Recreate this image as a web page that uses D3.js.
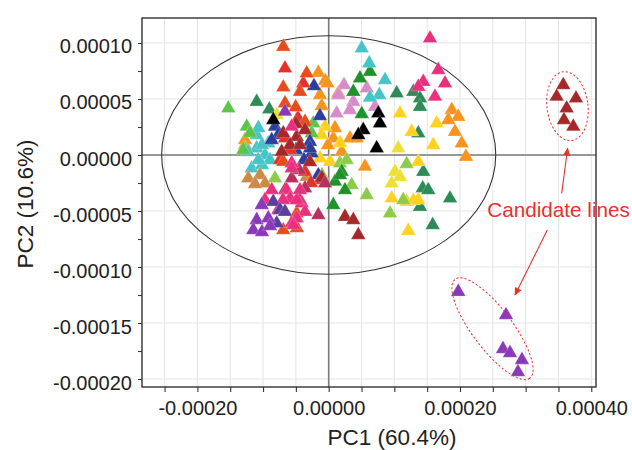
<!DOCTYPE html>
<html><head><meta charset="utf-8">
<script src="https://cdn.jsdelivr.net/npm/d3@7"></script>
<style>
html,body{margin:0;padding:0;background:#fff;}
svg{display:block;font-family:"Liberation Sans",Arial,Helvetica,sans-serif;}
</style></head><body>
<svg id="chart" width="632" height="450"></svg>
<script>
// ---------- data (PC1, PC2 scores) ----------
const orange = [[-1.58e-5,7.35e-5],[-0.56e-5,6.63e-5],[-1.33e-5,5.36e-5],[1.46e-5,5.51e-5],[-1.07e-5,4.38e-5],[0.70e-5,1.49e-5],[3.24e-5,1.49e-5],[4.27e-5,1.49e-5],[1.98e-5,0.29e-5],[5.53e-5,-1.04e-5],[18.74e-5,4.02e-5],[19.74e-5,3.42e-5],[18.22e-5,3.13e-5],[19.24e-5,2.08e-5],[20.26e-5,1.04e-5],[20.91e-5,-0.15e-5],[-12.75e-5,0.89e-5],[-12.75e-5,1.34e-5],[-0.21e-5,6.40e-5],[0.96e-5,2.41e-5],[-0.11e-5,0.89e-5]];
const orangeRed = [[-6.92e-5,9.67e-5],[-3.35e-5,7.29e-5],[-6.92e-5,6.04e-5],[-4.37e-5,5.65e-5],[-6.66e-5,4.62e-5],[-5.03e-5,4.26e-5],[-3.61e-5,2.97e-5],[-6.92e-5,-6.70e-5],[-4.87e-5,-5.21e-5],[-6.92e-5,-0.60e-5],[-4.83e-5,-6.52e-5]];
const red = [[-6.66e-5,7.74e-5],[-3.87e-5,6.40e-5],[-6.66e-5,1.49e-5],[-3.61e-5,-1.49e-5],[-4.68e-5,3.30e-5],[-7.42e-5,-0.45e-5],[-1.33e-5,-2.23e-5],[-2.70e-5,-2.50e-5],[-5.89e-5,0.45e-5]];
const orchid = [[2.33e-5,6.25e-5],[1.46e-5,5.36e-5],[5.79e-5,5.96e-5],[3.75e-5,4.76e-5],[3.24e-5,4.02e-5],[1.22e-5,3.72e-5],[7.05e-5,4.31e-5]];
const cyan = [[5.03e-5,9.53e-5],[6.18e-5,8.19e-5],[8.58e-5,6.70e-5],[7.71e-5,5.36e-5],[6.29e-5,5.13e-5],[-10.97e-5,1.79e-5],[-9.20e-5,1.04e-5],[-10.97e-5,0.60e-5],[-9.70e-5,0],[-8.94e-5,-0.45e-5],[-11.73e-5,-1.19e-5],[-10.72e-5,2.41e-5],[-12.29e-5,0.27e-5],[-10.16e-5,-0.89e-5],[-10.72e-5,-0.45e-5],[-10.16e-5,0.89e-5]];
const seaGreen = [[-10.97e-5,4.76e-5],[-9.05e-5,4.08e-5],[10.36e-5,5.51e-5],[12.89e-5,5.65e-5],[13.91e-5,5.06e-5],[13.91e-5,4.31e-5],[13.65e-5,1.94e-5],[14.41e-5,-1.49e-5],[14.32e-5,-2.97e-5],[15.17e-5,-3.13e-5],[18.48e-5,-3.87e-5],[13.91e-5,-4.62e-5],[15.84e-5,-6.25e-5]];
const forestGreen = [[6.29e-5,7.44e-5],[4.77e-5,6.85e-5],[3.75e-5,5.65e-5],[5.03e-5,3.66e-5],[1.98e-5,-1.49e-5],[2.48e-5,-3.13e-5],[0.96e-5,-2.38e-5],[0.70e-5,-4.46e-5],[1.72e-5,-1.79e-5]];
const limeGreen = [[11.88e-5,-0.80e-5],[5.79e-5,-3.57e-5],[3.50e-5,-2.68e-5],[11.36e-5,-4.02e-5],[9.34e-5,-5.21e-5],[1.72e-5,-0.74e-5],[2.74e-5,-0.45e-5],[-8.18e-5,-2.08e-5],[-12.75e-5,0.60e-5],[-1.02e-5,-1.79e-5]];
const green = [[-15.29e-5,4.17e-5],[-13.01e-5,0.45e-5],[-12.49e-5,2.53e-5],[-2.35e-5,2.83e-5],[-2.59e-5,1.94e-5],[-11.99e-5,1.96e-5]];
const black = [[7.56e-5,3.72e-5],[7.81e-5,2.83e-5],[5.27e-5,2.23e-5],[4.51e-5,1.79e-5],[7.31e-5,0.60e-5],[-8.44e-5,3.13e-5]];
const blue = [[-2.24e-5,6.16e-5],[-1.33e-5,3.48e-5],[-8.18e-5,2.53e-5],[-7.68e-5,1.79e-5],[-8.68e-5,1.34e-5],[-2.85e-5,1.19e-5],[-2.59e-5,0.15e-5],[-1.58e-5,-1.79e-5],[-2.85e-5,0.60e-5],[-4.98e-5,0.45e-5],[-3.76e-5,-0.45e-5]];
const gold = [[10.86e-5,3.72e-5],[12.64e-5,2.08e-5],[16.45e-5,2.83e-5],[15.93e-5,0.89e-5],[13.65e-5,-0.60e-5],[11.88e-5,-4.17e-5],[12.89e-5,-4.08e-5],[13.65e-5,-4.02e-5],[9.60e-5,-3.87e-5],[12.12e-5,-6.76e-5],[-0.56e-5,2.53e-5],[-1.07e-5,1.79e-5],[-1.33e-5,-0.29e-5],[0.20e-5,-0.60e-5],[1.72e-5,1.07e-5]];
const lemon = [[10.60e-5,0.60e-5],[10.10e-5,-1.49e-5],[10.86e-5,-1.94e-5],[9.60e-5,-2.53e-5],[-7.92e-5,3.57e-5]];
const tan = [[-12.25e-5,-2.08e-5],[-10.46e-5,-1.79e-5],[-9.70e-5,-2.53e-5],[-3.35e-5,-1.94e-5],[-11.23e-5,-2.59e-5]];
const brown = [[35.73e-5,6.25e-5],[34.73e-5,5.21e-5],[37.67e-5,5.06e-5],[36.25e-5,4.17e-5],[35.84e-5,3.13e-5],[37.26e-5,2.53e-5],[-6.92e-5,1.94e-5],[-4.87e-5,1.63e-5],[-5.89e-5,0.89e-5],[-7.16e-5,0.29e-5],[-4.37e-5,0.89e-5],[2.48e-5,-5.51e-5],[3.75e-5,-5.80e-5],[4.51e-5,-7.14e-5],[-4.98e-5,2.77e-5],[-1.02e-5,-2.05e-5],[-3.61e-5,2.23e-5],[-2.85e-5,-0.63e-5]];
const pink = [[15.43e-5,10.42e-5],[16.69e-5,7.59e-5],[14.41e-5,6.54e-5],[13.65e-5,6.10e-5],[17.72e-5,6.40e-5],[16.19e-5,5.21e-5],[-5.64e-5,2.53e-5],[-5.64e-5,-0.74e-5],[-5.64e-5,-1.19e-5],[-8.68e-5,-3.13e-5],[-6.40e-5,-3.13e-5],[-5.89e-5,-3.87e-5],[-7.68e-5,-4.91e-5],[-4.11e-5,-4.31e-5],[-3.61e-5,-5.06e-5],[-4.87e-5,-5.65e-5],[-5.64e-5,-6.10e-5],[-5.39e-5,-6.25e-5],[-4.87e-5,-4.02e-5],[-4.37e-5,-3.13e-5],[-9.70e-5,-4.02e-5],[-6.96e-5,-4.02e-5]];
const raspberry = [[-5.64e-5,-2.08e-5],[-6.66e-5,-3.13e-5],[-3.61e-5,-2.97e-5],[-1.58e-5,-5.36e-5],[-0.56e-5,-2.53e-5],[-4.52e-5,-1.34e-5],[-4.37e-5,-4.02e-5]];
const indigo = [[-8.44e-5,-4.17e-5],[-7.42e-5,-4.91e-5],[-7.92e-5,-6.10e-5],[-6.66e-5,-5.06e-5]];
const purple = [[19.74e-5,-12.21e-5],[27.01e-5,-14.29e-5],[26.55e-5,-17.32e-5],[27.62e-5,-17.68e-5],[29.44e-5,-18.30e-5],[28.83e-5,-19.38e-5],[-10.21e-5,-4.46e-5],[-10.97e-5,-5.80e-5],[-9.20e-5,-5.65e-5],[-11.49e-5,-6.70e-5],[-6.66e-5,3.87e-5],[-10.16e-5,-6.88e-5],[-8.94e-5,-6.34e-5]];

const seriesData   = [orange, seaGreen, gold, lemon, limeGreen, orchid, forestGreen, cyan, green, blue, black, tan, red, orangeRed, brown, raspberry, pink, indigo, purple];
const seriesColors = ["#F7941E","#2E8B57","#FFD21F","#EEE033","#8DCB4B","#D78BC9","#1F922A","#47C4C8","#5DC44B","#2C3F9C","#000000","#CD8A47","#E3322B","#E84B1E","#A5292B","#B8305F","#E8307E","#5B3F9C","#8A3AB9"];

const xDomain = [-2.844e-4, 4.072e-4];
const yDomain = [-2.0714e-4, 1.2232e-4];
const xTickValues = [-0.00025,-0.0002,-0.00015,-0.0001,-0.00005,0,0.00005,0.0001,0.00015,0.0002,0.00025,0.0003,0.00035,0.0004];
const xLabelValues = [-0.0002,0,0.0002,0.0004];
const yTickValues = [-0.0002,-0.000175,-0.00015,-0.000125,-0.0001,-0.000075,-0.00005,-0.000025,0,0.000025,0.00005,0.000075,0.0001];
const yLabelValues = [-0.0002,-0.00015,-0.0001,-0.00005,0,0.00005,0.0001];
const ellipseRadii = [2.545e-4, 1.065e-4];
const xTitle = "PC1 (60.4%)";
const yTitle = "PC2 (10.6%)";
const noteText = "Candidate lines";
const notePos = [24.16e-5, -5.51e-5];
const ringUpper = [36.37e-5, 4.36e-5];
const ringLower = [24.95e-5, -15.51e-5];
const arrowUpper = [[35.49e-5,-3.42e-5],[36.40e-5,0.60e-5]];
const arrowLower = [[33.30e-5,-6.70e-5],[28.38e-5,-12.50e-5]];

// ---------- drawing ----------
const svg = d3.select("#chart");
const L = 142, R = 596, T = 18, B = 387;
const x = d3.scaleLinear().domain(xDomain).range([L, R]);
const y = d3.scaleLinear().domain(yDomain).range([B, T]);
const red2 = "#E5332D";
const fmt = v => (Math.abs(v) < 1e-12 ? 0 : v).toFixed(5);

const defs = svg.append("defs");
defs.append("clipPath").attr("id","clip").append("rect").attr("x",L).attr("y",T).attr("width",R-L).attr("height",B-T);
defs.append("marker").attr("id","arr").attr("viewBox","0 0 10 10").attr("refX",9).attr("refY",5)
  .attr("markerWidth",9).attr("markerHeight",8).attr("markerUnits","userSpaceOnUse").attr("orient","auto")
  .append("path").attr("d","M0,0.5 L10,5 L0,9.5 Z").attr("fill",red2);

// grid
const grid = svg.append("g");
grid.selectAll("line.gx").data(xTickValues).join("line")
  .attr("x1",d=>x(d)).attr("x2",d=>x(d)).attr("y1",T).attr("y2",B)
  .attr("stroke","#e4e4e4").attr("stroke-width",1);
grid.selectAll("line.gy").data(yLabelValues).join("line")
  .attr("y1",d=>y(d)).attr("y2",d=>y(d)).attr("x1",L).attr("x2",R)
  .attr("stroke","#e4e4e4").attr("stroke-width",1);

// zero lines
svg.append("line").attr("x1",x(0)).attr("x2",x(0)).attr("y1",T).attr("y2",B).attr("stroke","#7a7a7a").attr("stroke-width",1.6);
svg.append("line").attr("y1",y(0)).attr("y2",y(0)).attr("x1",L).attr("x2",R).attr("stroke","#7a7a7a").attr("stroke-width",1.6);

// confidence ellipse
svg.append("ellipse").attr("cx",x(0)).attr("cy",y(0))
  .attr("rx",x(ellipseRadii[0])-x(0)).attr("ry",y(0)-y(ellipseRadii[1]))
  .attr("fill","none").attr("stroke","#333").attr("stroke-width",1.1);

// points
const tri = d3.symbol().type(d3.symbolTriangle).size(92);
const pts = svg.append("g").attr("clip-path","url(#clip)");
seriesData.forEach((arr, i) => {
  pts.append("g").selectAll("path").data(arr).join("path")
    .attr("d", tri)
    .attr("transform", d => `translate(${x(d[0])},${y(d[1])})`)
    .attr("fill", seriesColors[i])
    .attr("stroke","#ffffff").attr("stroke-opacity",0.35).attr("stroke-width",0.6);
});

// frame
svg.append("rect").attr("x",L).attr("y",T).attr("width",R-L).attr("height",B-T)
  .attr("fill","none").attr("stroke","#222").attr("stroke-width",1.3);

// axes
const xa = svg.append("g").attr("transform",`translate(0,${B})`)
  .call(d3.axisBottom(x).tickValues(xTickValues).tickSize(5).tickSizeOuter(0)
    .tickFormat(v => xLabelValues.some(l => Math.abs(l-v)<1e-9) ? fmt(v) : ""));
xa.select(".domain").remove();
xa.selectAll("line").attr("stroke","#333").attr("stroke-width",1.1);
xa.selectAll("text").attr("y",28).attr("dy",0).attr("font-size",20).attr("fill","#222")
  .attr("font-family",'"Liberation Sans",Arial,sans-serif');

const ya = svg.append("g").attr("transform",`translate(${L},0)`)
  .call(d3.axisLeft(y).tickValues(yTickValues).tickSize(4).tickSizeOuter(0)
    .tickFormat(v => yLabelValues.some(l => Math.abs(l-v)<1e-9) ? fmt(v) : ""));
ya.select(".domain").remove();
ya.selectAll("line").attr("stroke","#333").attr("stroke-width",1.1);
ya.selectAll("text").attr("x",-10).attr("y",10).attr("dy",0).attr("font-size",20).attr("fill","#222")
  .attr("font-family",'"Liberation Sans",Arial,sans-serif');

// titles
svg.append("text").attr("x",392).attr("y",445).attr("text-anchor","middle")
  .attr("font-size",22.5).attr("fill","#222").text(xTitle);
svg.append("text").attr("transform",`translate(33,204) rotate(-90)`).attr("text-anchor","middle")
  .attr("font-size",22.5).attr("fill","#222").text(yTitle);

// annotations
svg.append("ellipse").attr("transform",`translate(${x(ringUpper[0])},${y(ringUpper[1])}) rotate(-7)`)
  .attr("rx",20.5).attr("ry",34.7).attr("fill","none").attr("stroke",red2).attr("stroke-width",1).attr("stroke-dasharray","2.2,2");
svg.append("ellipse").attr("transform",`translate(${x(ringLower[0])},${y(ringLower[1])}) rotate(53)`)
  .attr("rx",62).attr("ry",20).attr("fill","none").attr("stroke",red2).attr("stroke-width",1).attr("stroke-dasharray","2.2,2");
[arrowUpper, arrowLower].forEach(a => {
  svg.append("line").attr("x1",x(a[0][0])).attr("y1",y(a[0][1])).attr("x2",x(a[1][0])).attr("y2",y(a[1][1]))
    .attr("stroke",red2).attr("stroke-width",1.1).attr("marker-end","url(#arr)");
});
svg.append("text").attr("x",x(notePos[0])).attr("y",y(notePos[1])).attr("font-size",20.7).attr("fill",red2).text(noteText);
</script></body></html>
